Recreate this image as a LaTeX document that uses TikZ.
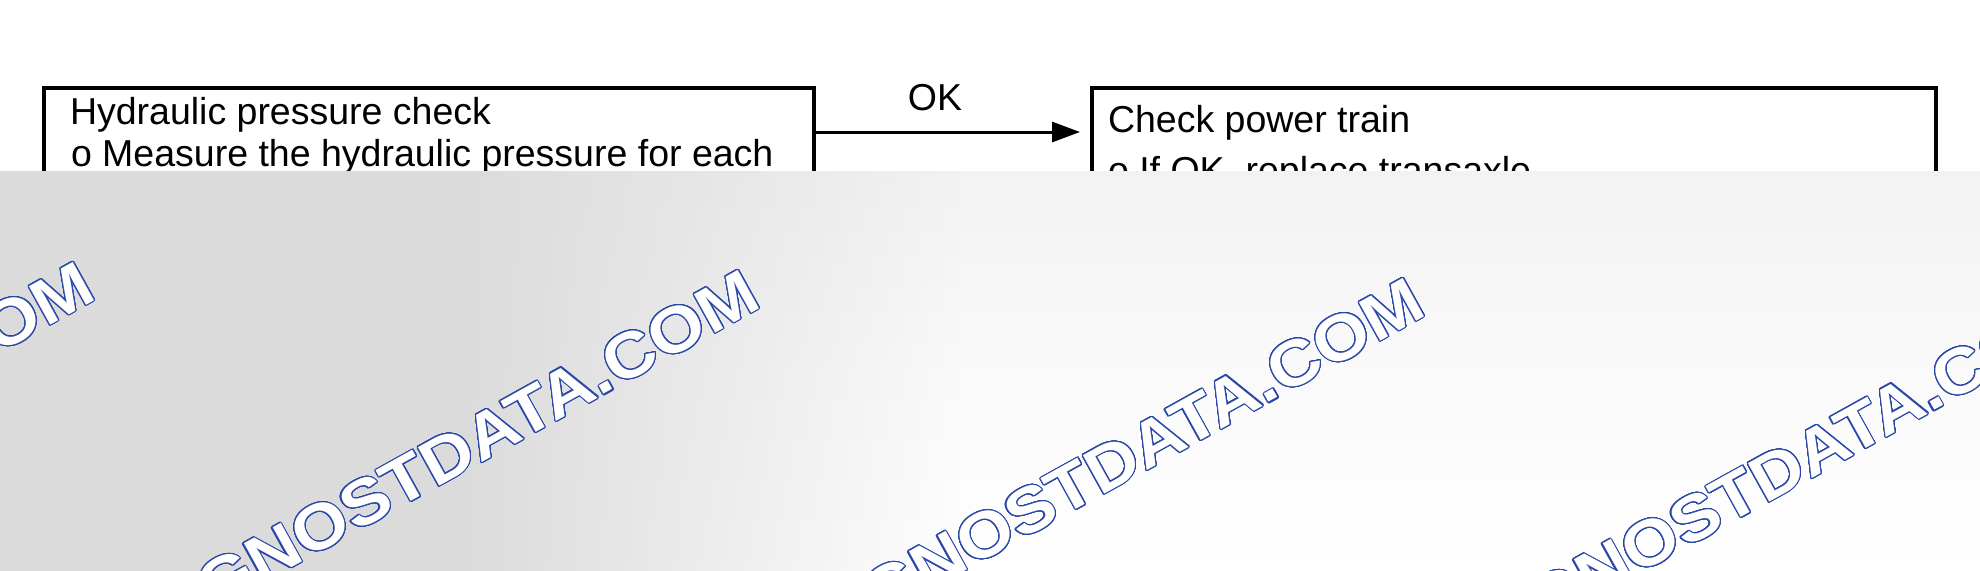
\documentclass[tikz,border=0pt]{standalone}
\usepackage{fontspec}
\setmainfont{Liberation Sans}
\newfontfamily\wmfont[FakeStretch=1.12]{Liberation Sans Bold}
\usepackage{contour}
\usetikzlibrary{arrows.meta,fadings}
\definecolor{wmblue}{HTML}{2A48A8}
\tikzfading[name=wmfaderight, left color=transparent!0, right color=transparent!100]
\contourlength{0.55pt}
\contournumber{32}
\newcommand\mainfs{\fontsize{18.75pt}{22pt}\selectfont}
\newcommand\wmfs{\wmfont\fontsize{32pt}{38pt}\selectfont}
\tikzset{
  boxstyle/.style={draw, line width=2pt, rectangle, minimum width=#1, minimum height=236pt,
    anchor=north west, inner sep=0pt, outer sep=0pt},
  txt/.style={anchor=base west, inner sep=0pt, outer sep=0pt, font=\mainfs},
  lbl/.style={anchor=base, inner sep=0pt, font=\mainfs},
  conn/.style={line width=1.5pt, -{Triangle[length=14pt,width=10pt]}},
  wm/.style={anchor=base east, inner sep=0pt, rotate=29, font=\wmfs}
}
\begin{document}
\begin{tikzpicture}[x=0.5pt,y=-0.5pt]
\useasboundingbox (0,0) rectangle (1980,570);
\fill[white] (-10,-10) rectangle (1990,580);
% boxes
\node[boxstyle=385pt] (hyd) at (44,88) {};
\node[boxstyle=422pt] (pow) at (1092,88) {};
% texts
\node[txt] (h1) at (70,124) {Hydraulic pressure check};
\node[txt] (h2) at (71,166) {o Measure the hydraulic pressure for each};
\node[txt] (p1) at (1108,132) {Check power train};
\node[txt] (p2) at (1108,183) {o If OK, replace transaxle};
% connector
\draw[conn] ([yshift=-22pt]hyd.north east) -- ([yshift=-22pt,xshift=-6pt]pow.north west)
  node[lbl, pos=0.455, above=10pt] (ok) {OK};
% watermark band
\fill[top color=black!5, bottom color=white, middle color=black!2] (-10,171) rectangle (1995,580);
\fill[black!14] (-10,171) rectangle (460,580);
\fill[black!14, path fading=wmfaderight] (460,171) rectangle (960,580);
\begin{scope}
\clip (-10,171) rectangle (1995,580);
\foreach \k in {0,...,3} {
  \node[wm] (wm\k) at ({99+665*\k},{298+8*\k}) {\textcolor{white}{\contour{wmblue}{AGNOSTDATA.COM}}};
}
\end{scope}
\end{tikzpicture}
\end{document}
